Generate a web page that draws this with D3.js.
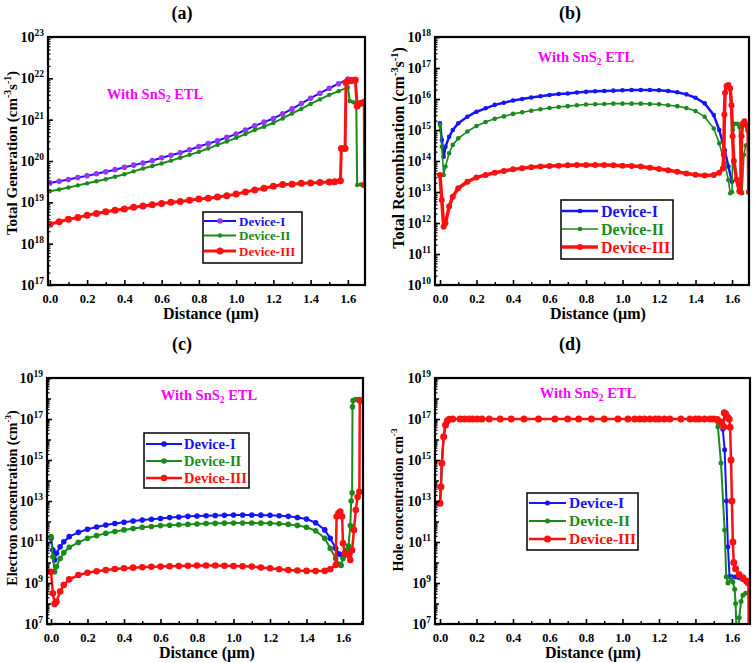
<!DOCTYPE html>
<html><head><meta charset="utf-8">
<script src="https://cdn.jsdelivr.net/npm/d3@7"></script>
<style>
body{margin:0;background:#fff}
text{font-family:"Liberation Serif","Times New Roman",serif;font-weight:bold}
</style>
</head><body>
<svg id="chart" width="756" height="663"></svg>
<script>
// ---------- DATA ----------
const deviceNames = ["Device-I", "Device-II", "Device-III"];
const xTickLabels = [0, 0.2, 0.4, 0.6, 0.8, 1.0, 1.2, 1.4, 1.6];
const yExpA = [17, 18, 19, 20, 21, 22, 23];
const yExpB = [10, 11, 12, 13, 14, 15, 16, 17, 18];
const yExpCD = [7, 9, 11, 13, 15, 17, 19];

// (a) Total generation (cm-3 s-1) vs distance (um)
const genDevI = [[0,2.95e19],[0.05,3.24e19],[0.1,3.55e19],[0.15,3.98e19],[0.2,4.37e19],[0.25,4.9e19],[0.3,5.5e19],[0.35,6.17e19],[0.4,7.08e19],[0.45,7.94e19],[0.5,8.91e19],[0.55,1.02e20],[0.6,1.2e20],[0.65,1.38e20],[0.7,1.58e20],[0.75,1.86e20],[0.8,2.24e20],[0.85,2.63e20],[0.9,3.09e20],[0.95,3.72e20],[1.0,4.47e20],[1.05,5.62e20],[1.1,7.08e20],[1.15,8.71e20],[1.2,1.07e21],[1.25,1.38e21],[1.3,1.82e21],[1.35,2.45e21],[1.4,3.31e21],[1.45,4.37e21],[1.5,5.75e21],[1.55,7.41e21],[1.6,9.55e21]];
const genDevII = [[0,1.86e19],[0.05,2.04e19],[0.1,2.29e19],[0.15,2.57e19],[0.2,2.88e19],[0.25,3.24e19],[0.3,3.63e19],[0.35,4.17e19],[0.4,4.79e19],[0.45,5.62e19],[0.5,6.61e19],[0.55,7.59e19],[0.6,8.71e19],[0.65,1.02e20],[0.7,1.2e20],[0.75,1.41e20],[0.8,1.66e20],[0.85,2.0e20],[0.9,2.45e20],[0.95,2.95e20],[1.0,3.63e20],[1.05,4.47e20],[1.1,5.62e20],[1.15,6.76e20],[1.2,8.32e20],[1.25,1.07e21],[1.3,1.41e21],[1.35,1.82e21],[1.4,2.4e21],[1.45,3.09e21],[1.5,3.98e21],[1.55,4.9e21],[1.6,6.03e21],[1.61,2.82e21],[1.63,2.63e21],[1.645,2.51e21],[1.65,2.63e19],[1.67,2.69e19],[1.69,2.82e19]];
const genDevIII = [[0,2.95e18],[0.05,3.39e18],[0.1,3.89e18],[0.15,4.27e18],[0.2,4.9e18],[0.25,5.37e18],[0.3,5.89e18],[0.35,6.46e18],[0.4,6.92e18],[0.45,7.59e18],[0.5,8.13e18],[0.55,8.71e18],[0.6,9.33e18],[0.65,1.0e19],[0.7,1.05e19],[0.75,1.12e19],[0.8,1.2e19],[0.85,1.26e19],[0.9,1.35e19],[0.95,1.45e19],[1.0,1.58e19],[1.05,1.78e19],[1.1,2.0e19],[1.15,2.19e19],[1.2,2.45e19],[1.25,2.69e19],[1.3,2.75e19],[1.35,2.88e19],[1.4,2.95e19],[1.45,3.02e19],[1.5,3.09e19],[1.53,3.16e19],[1.56,3.31e19],[1.565,2.0e20],[1.585,2.0e20],[1.59,7.94e21],[1.6,8.5e21],[1.62,8.9e21],[1.64,9.1e21],[1.65,2.14e21],[1.67,2.51e21],[1.688,2.69e21],[1.69,2.63e19]];

// (b) Total recombination (cm-3 s-1)
const recDevI = [[0,1.66e15],[0.01,4.79e14],[0.02,1.38e14],[0.03,2.88e14],[0.05,6.03e14],[0.07,1.0e15],[0.1,1.66e15],[0.15,2.69e15],[0.2,3.89e15],[0.25,5.01e15],[0.3,6.46e15],[0.35,7.59e15],[0.4,8.91e15],[0.45,1.0e16],[0.5,1.12e16],[0.55,1.23e16],[0.6,1.35e16],[0.65,1.45e16],[0.7,1.51e16],[0.75,1.62e16],[0.8,1.7e16],[0.85,1.78e16],[0.9,1.82e16],[0.95,1.86e16],[1.0,1.91e16],[1.05,1.95e16],[1.1,1.95e16],[1.15,1.95e16],[1.2,1.91e16],[1.25,1.82e16],[1.3,1.66e16],[1.35,1.41e16],[1.4,1.1e16],[1.45,7.24e15],[1.5,3.02e15],[1.53,1.0e15],[1.56,2.24e14],[1.58,6.61e13],[1.6,2.14e13]];
const recDevII = [[0,1.45e15],[0.01,2.88e14],[0.02,3.55e13],[0.03,6.61e13],[0.05,1.78e14],[0.07,3.31e14],[0.1,5.37e14],[0.15,8.91e14],[0.2,1.35e15],[0.25,1.82e15],[0.3,2.29e15],[0.35,2.75e15],[0.4,3.31e15],[0.45,3.72e15],[0.5,4.17e15],[0.55,4.68e15],[0.6,5.13e15],[0.65,5.5e15],[0.7,5.89e15],[0.75,6.31e15],[0.8,6.61e15],[0.85,6.76e15],[0.9,6.92e15],[0.95,7.08e15],[1.0,7.08e15],[1.05,7.08e15],[1.1,7.08e15],[1.15,6.92e15],[1.2,6.76e15],[1.25,6.31e15],[1.3,5.89e15],[1.35,5.13e15],[1.4,4.07e15],[1.45,2.69e15],[1.5,1.12e15],[1.53,3.72e14],[1.56,8.51e13],[1.58,2.45e13],[1.59,9.12e12],[1.6,1.0e13],[1.605,1.0e15],[1.615,1.58e15],[1.63,1.58e15],[1.64,1.26e15],[1.65,1.0e13],[1.655,9.12e12],[1.665,1.58e14],[1.675,3.16e14],[1.69,3.55e14]];
const recDevIII = [[0,3.55e13],[0.01,5.5e12],[0.02,7.59e11],[0.03,9.77e11],[0.05,3.39e12],[0.07,7.08e12],[0.1,1.32e13],[0.15,2.14e13],[0.2,2.95e13],[0.25,3.55e13],[0.3,4.17e13],[0.35,4.79e13],[0.4,5.37e13],[0.45,5.89e13],[0.5,6.31e13],[0.55,6.61e13],[0.6,6.92e13],[0.65,7.08e13],[0.7,7.24e13],[0.75,7.41e13],[0.8,7.41e13],[0.85,7.41e13],[0.9,7.41e13],[0.95,7.24e13],[1.0,7.08e13],[1.05,6.92e13],[1.1,6.61e13],[1.15,6.03e13],[1.2,5.5e13],[1.25,5.01e13],[1.3,4.47e13],[1.35,3.98e13],[1.4,3.63e13],[1.45,3.39e13],[1.5,3.55e13],[1.53,4.17e13],[1.55,5.75e13],[1.555,1.58e14],[1.558,3.16e15],[1.562,1.58e16],[1.57,2.63e16],[1.58,2.82e16],[1.59,2.24e16],[1.597,6.31e15],[1.603,6.31e14],[1.61,1.0e14],[1.625,2.51e13],[1.64,1.05e13],[1.648,1.0e13],[1.652,6.31e14],[1.658,1.58e15],[1.668,1.91e15],[1.68,1.41e15],[1.688,1.0e15],[1.692,1.0e13]];

// (c) Electron concentration (cm-3)
const eleDevI = [[0,1.51e11],[0.01,4.07e10],[0.02,1.32e10],[0.03,2.82e10],[0.05,5.89e10],[0.07,1.02e11],[0.1,1.82e11],[0.15,2.95e11],[0.2,4.17e11],[0.25,5.37e11],[0.3,6.76e11],[0.35,7.94e11],[0.4,9.12e11],[0.45,1.05e12],[0.5,1.17e12],[0.55,1.29e12],[0.6,1.41e12],[0.65,1.55e12],[0.7,1.66e12],[0.75,1.78e12],[0.8,1.86e12],[0.85,1.91e12],[0.9,1.95e12],[0.95,2.0e12],[1.0,2.09e12],[1.05,2.09e12],[1.1,2.09e12],[1.15,2.04e12],[1.2,2.0e12],[1.25,1.91e12],[1.3,1.78e12],[1.35,1.58e12],[1.4,1.32e12],[1.45,8.71e11],[1.5,3.89e11],[1.53,1.51e11],[1.56,4.9e10],[1.58,2.57e10],[1.6,1.91e10]];
const eleDevII = [[0,1.82e11],[0.01,1.91e10],[0.02,3.55e9],[0.03,6.31e9],[0.05,1.58e10],[0.07,3.02e10],[0.1,5.5e10],[0.15,9.55e10],[0.2,1.51e11],[0.25,2.04e11],[0.3,2.63e11],[0.35,3.24e11],[0.4,3.89e11],[0.45,4.57e11],[0.5,5.25e11],[0.55,5.75e11],[0.6,6.31e11],[0.65,6.61e11],[0.7,6.92e11],[0.75,7.24e11],[0.8,7.59e11],[0.85,7.94e11],[0.9,8.13e11],[0.95,8.32e11],[1.0,8.51e11],[1.05,8.51e11],[1.1,8.51e11],[1.15,8.32e11],[1.2,8.13e11],[1.25,7.76e11],[1.3,7.24e11],[1.35,6.46e11],[1.4,5.25e11],[1.45,3.55e11],[1.5,1.51e11],[1.53,4.9e10],[1.56,1.58e10],[1.58,8.13e9],[1.59,7.24e9],[1.6,1.58e10],[1.61,3.16e10],[1.62,3.98e10],[1.63,6.31e10],[1.64,6.31e11],[1.645,1.0e13],[1.65,2.51e13],[1.652,3.98e17],[1.655,7.94e17],[1.67,8.91e17],[1.69,8.91e17],[1.705,8.32e17]];
const eleDevIII = [[0,3.55e9],[0.01,3.16e8],[0.02,9.55e7],[0.03,1.23e8],[0.05,3.8e8],[0.07,7.94e8],[0.1,1.51e9],[0.15,2.45e9],[0.2,3.16e9],[0.25,3.72e9],[0.3,4.27e9],[0.35,4.79e9],[0.4,5.25e9],[0.45,5.62e9],[0.5,5.89e9],[0.55,6.17e9],[0.6,6.31e9],[0.65,6.61e9],[0.7,6.76e9],[0.75,6.92e9],[0.8,7.08e9],[0.85,7.08e9],[0.9,7.08e9],[0.95,6.92e9],[1.0,6.76e9],[1.05,6.61e9],[1.1,6.31e9],[1.15,5.75e9],[1.2,5.25e9],[1.25,4.68e9],[1.3,4.27e9],[1.35,4.07e9],[1.4,3.89e9],[1.45,3.8e9],[1.5,3.89e9],[1.53,4.68e9],[1.56,7.59e9],[1.565,1.74e12],[1.575,2.51e12],[1.585,3.02e12],[1.595,1.74e12],[1.6,8.71e10],[1.61,2.82e10],[1.63,2.34e10],[1.64,1.32e10],[1.65,3.98e10],[1.66,3.89e11],[1.67,3.63e12],[1.68,1.58e13],[1.69,2.82e13],[1.692,7.94e17],[1.705,7.94e17]];

// (d) Hole concentration (cm-3)
const holeDevI = [[0,7.76e12],[0.005,5.01e13],[0.01,6.92e14],[0.02,1.38e16],[0.03,5.13e16],[0.04,8.32e16],[0.05,9.77e16],[0.07,1e17],[0.11,1e17],[0.16,1e17],[0.23,1e17],[0.33,1e17],[0.46,1e17],[0.63,1e17],[0.76,1e17],[0.9,1e17],[1.03,1e17],[1.12,1e17],[1.2,1e17],[1.26,1e17],[1.37,1e17],[1.45,1e17],[1.5,1e17],[1.52,9.33e16],[1.54,6.31e16],[1.55,3.16e16],[1.56,3.16e15],[1.57,1.0e13],[1.578,5.89e10],[1.587,2.0e9],[1.6,2.0e9],[1.62,1.95e9],[1.64,1.8e9],[1.66,1.5e9],[1.68,1.2e9],[1.69,1.0e9]];
const holeDevII = [[0,7.76e12],[0.005,5.01e13],[0.01,6.92e14],[0.02,1.38e16],[0.03,5.13e16],[0.04,8.32e16],[0.05,9.77e16],[0.07,1e17],[0.11,1e17],[0.16,1e17],[0.23,1e17],[0.33,1e17],[0.46,1e17],[0.63,1e17],[0.76,1e17],[0.9,1e17],[1.03,1e17],[1.12,1e17],[1.2,1e17],[1.26,1e17],[1.37,1e17],[1.45,1e17],[1.5,1e17],[1.51,9.33e16],[1.523,4.17e16],[1.54,7.08e14],[1.56,3.89e11],[1.569,2.0e9],[1.578,1.0e9],[1.596,1.58e9],[1.605,1.12e9],[1.615,5.0e8],[1.62,1.0e8],[1.625,5.0e6],[1.635,5.0e6],[1.64,2.0e7],[1.65,1.26e8],[1.66,2.51e8],[1.675,3.16e8],[1.7,3.16e8]];
const holeDevIII = [[0,7.76e12],[0.005,5.01e13],[0.01,6.92e14],[0.02,1.38e16],[0.03,5.13e16],[0.04,8.32e16],[0.05,9.77e16],[0.07,1e17],[0.11,1e17],[0.135,1e17],[0.16,1e17],[0.18,1e17],[0.205,1e17],[0.23,1e17],[0.27,1e17],[0.33,1e17],[0.39,1e17],[0.46,1e17],[0.54,1e17],[0.63,1e17],[0.7,1e17],[0.76,1e17],[0.83,1e17],[0.9,1e17],[0.975,1e17],[1.03,1e17],[1.067,1e17],[1.094,1e17],[1.12,1e17],[1.15,1e17],[1.18,1e17],[1.2,1e17],[1.23,1e17],[1.26,1e17],[1.32,1e17],[1.37,1e17],[1.4,1e17],[1.42,1e17],[1.45,1e17],[1.48,1e17],[1.5,1e17],[1.52,9.55e16],[1.54,7.08e16],[1.555,4.17e16],[1.558,2.0e17],[1.565,1.78e17],[1.575,1.26e17],[1.585,1.0e17],[1.59,3.98e16],[1.595,1.0e15],[1.6,1.0e13],[1.605,1.0e11],[1.61,1.0e10],[1.62,5.01e9],[1.64,2.51e9],[1.66,1.78e9],[1.68,1.26e9],[1.69,1.0e9],[1.692,6.3e6]];

// ---------- STYLE / LAYOUT ----------
const BLUE = "#1414ff", GREEN = "#1a8a1a", RED = "#ff1010", VIOLET = "#9933ff", MAGENTA = "#ff00ff";
const textColors = [BLUE, GREEN, RED];

const panels = [
  { id:"a", label:"(a)", labelX:182, labelY:19, l:48, r:365, t:37, b:285,
    xDom:[-0.01,1.692], yDom:[1e17,1e23], yExp:yExpA, decades:[17,23],
    yTitle:[["Total Generation (cm",0],["-3",1],["s",0],["-1",1],[")",0]], yTitleX:12, yTitleY:153, yTitleFs:15,
    xTitleX:211, annX:155, annY:99,
    legend:{x0:203,y0:212,x1:302,y1:263,rows:[221,235.5,251],lx0:204,lx1:236,tx:239,fs:13},
    series:[
      {data:genDevI, color:BLUE, marker:VIOLET, lw:2, r:2.8},
      {data:genDevII, color:GREEN, marker:GREEN, lw:2, r:2.2},
      {data:genDevIII, color:RED, marker:RED, lw:3, r:3.5}]},
  { id:"b", label:"(b)", labelX:570, labelY:19, l:435, r:749, t:37, b:285,
    xDom:[-0.0274,1.693], yDom:[1e10,1e18], yExp:yExpB, decades:[10,18],
    yTitle:[["Total Recombination (cm",0],["-3",1],["s",0],["-1",1],[")",0]], yTitleX:398, yTitleY:148, yTitleFs:16,
    xTitleX:598, annX:586, annY:62,
    legend:{x0:561,y0:200,x1:673,y1:259,rows:[211,229,247],lx0:562,lx1:598,tx:601,fs:16},
    series:[
      {data:recDevI, color:BLUE, marker:BLUE, lw:2.5, r:2.3},
      {data:recDevII, color:GREEN, marker:GREEN, lw:1.6, r:2.3},
      {data:recDevIII, color:RED, marker:RED, lw:3.5, r:3}]},
  { id:"c", label:"(c)", labelX:182, labelY:350, l:47, r:363, t:378, b:624,
    xDom:[-0.0219,1.7096], yDom:[1e7,1e19], yExp:yExpCD, decades:[7,19],
    yTitle:[["Electron concentration (cm",0],["-3",1],[")",0]], yTitleX:12, yTitleY:498, yTitleFs:14,
    xTitleX:207, annX:209, annY:400,
    legend:{x0:144,y0:433,x1:249,y1:488,rows:[444,461,478],lx0:146,lx1:182,tx:184,fs:14.5},
    series:[
      {data:eleDevI, color:BLUE, marker:BLUE, lw:2, r:2.8},
      {data:eleDevII, color:GREEN, marker:GREEN, lw:2, r:2.8},
      {data:eleDevIII, color:RED, marker:RED, lw:2.5, r:3.3}]},
  { id:"d", label:"(d)", labelX:570, labelY:350, l:435, r:750, t:378, b:624,
    xDom:[-0.0274,1.699], yDom:[1e7,1e19], yExp:yExpCD, decades:[7,19],
    yTitle:[["Hole concentration cm",0],["-3",1]], yTitleX:398, yTitleY:500, yTitleFs:14,
    xTitleX:593, annX:588, annY:398,
    legend:{x0:527,y0:493,x1:638,y1:550,rows:[503,521,539],lx0:529,lx1:566,tx:569,fs:15.5},
    series:[
      {data:holeDevI, color:BLUE, marker:BLUE, lw:2, r:2.5},
      {data:holeDevII, color:GREEN, marker:GREEN, lw:2, r:2.5},
      {data:holeDevIII, color:RED, marker:RED, lw:2.5, r:3.5}]}
];

const svg = d3.select("#chart");
const defs = svg.append("defs");

panels.forEach(p => {
  const g = svg.append("g");
  const x = d3.scaleLinear().domain(p.xDom).range([p.l, p.r]);
  const y = d3.scaleLog().domain(p.yDom).range([p.b, p.t]);

  defs.append("clipPath").attr("id", "clip-" + p.id)
    .append("rect").attr("x", p.l).attr("y", p.t).attr("width", p.r - p.l).attr("height", p.b - p.t);

  // panel label
  g.append("text").attr("x", p.labelX).attr("y", p.labelY).attr("text-anchor", "middle")
    .attr("font-size", 18).text(p.label);

  // data
  const plot = g.append("g").attr("clip-path", `url(#clip-${p.id})`);
  const line = d3.line().x(d => x(d[0])).y(d => y(d[1]));
  p.series.forEach(s => {
    plot.append("path").datum(s.data).attr("d", line).attr("fill", "none")
      .attr("stroke", s.color).attr("stroke-width", s.lw).attr("stroke-linejoin", "round");
    plot.append("g").selectAll("circle").data(s.data).join("circle")
      .attr("cx", d => x(d[0])).attr("cy", d => y(d[1])).attr("r", s.r).attr("fill", s.marker);
  });

  // x axis ticks (inward)
  const xMinor = d3.range(0.1, p.xDom[1], 0.2);
  const xAx = g.append("g").attr("transform", `translate(0,${p.b})`)
    .call(d3.axisBottom(x).tickValues(xTickLabels).tickSize(-5).tickPadding(9).tickFormat(d3.format(".1f")));
  xAx.select(".domain").remove();
  xAx.selectAll("text").attr("font-size", 12.5).attr("fill", "#000").attr("font-family", '"Liberation Serif",serif').attr("font-weight", "bold");
  xAx.selectAll("line").attr("stroke-width", 1.6);
  const xAx2 = g.append("g").attr("transform", `translate(0,${p.b})`)
    .call(d3.axisBottom(x).tickValues(xMinor).tickSize(-3).tickFormat(""));
  xAx2.select(".domain").remove();
  xAx2.selectAll("line").attr("stroke-width", 1.4);

  // y axis ticks
  const majors = [], mids = [], minors = [];
  for (let e = p.decades[0]; e <= p.decades[1]; e++) {
    if (p.yExp.includes(e)) majors.push(Math.pow(10, e)); else mids.push(Math.pow(10, e));
    if (e < p.decades[1]) for (let k = 2; k <= 9; k++) minors.push(k * Math.pow(10, e));
  }
  [[majors, 5, 1.6], [mids, 4, 1.5], [minors, 2.5, 1.2]].forEach(([vals, len, w]) => {
    const ax = g.append("g").attr("transform", `translate(${p.l},0)`)
      .call(d3.axisLeft(y).tickValues(vals).tickSize(-len).tickFormat(""));
    ax.select(".domain").remove();
    ax.selectAll("line").attr("stroke-width", w);
  });
  // y tick labels 10^n
  p.yExp.forEach(e => {
    const t = g.append("text").attr("x", p.l - 4).attr("y", y(Math.pow(10, e)) + 5)
      .attr("text-anchor", "end").attr("font-size", 14);
    t.append("tspan").text("10");
    t.append("tspan").attr("dy", -6).attr("font-size", 9.5).text(String(e));
  });

  // frame
  g.append("rect").attr("x", p.l).attr("y", p.t).attr("width", p.r - p.l).attr("height", p.b - p.t)
    .attr("fill", "none").attr("stroke", "#000").attr("stroke-width", 2.2);

  // axis titles
  g.append("text").attr("x", p.xTitleX).attr("y", p.b + 34).attr("text-anchor", "middle")
    .attr("font-size", 16).text("Distance (\u00b5m)");
  const yt = g.append("text").attr("transform", `translate(${p.yTitleX},${p.yTitleY}) rotate(-90)`)
    .attr("text-anchor", "middle").attr("dy", "0.35em").attr("font-size", p.yTitleFs);
  let up = false;
  p.yTitle.forEach(([txt, sup]) => {
    const ts = yt.append("tspan").text(txt);
    if (sup && !up) { ts.attr("dy", -6).attr("font-size", p.yTitleFs * 0.65); up = true; }
    else if (!sup && up) { ts.attr("dy", 6); up = false; }
    else if (sup) ts.attr("font-size", p.yTitleFs * 0.65);
  });

  // annotation
  const an = g.append("text").attr("x", p.annX).attr("y", p.annY).attr("text-anchor", "middle")
    .attr("font-size", 14.5).attr("fill", MAGENTA);
  an.append("tspan").text("With SnS");
  an.append("tspan").attr("dy", 3).attr("font-size", 9.5).text("2");
  an.append("tspan").attr("dy", -3).text(" ETL");

  // legend
  const L = p.legend;
  const lg = g.append("g");
  lg.append("rect").attr("x", L.x0).attr("y", L.y0).attr("width", L.x1 - L.x0).attr("height", L.y1 - L.y0)
    .attr("fill", "#fff").attr("stroke", "#000").attr("stroke-width", 1.5);
  p.series.forEach((s, i) => {
    const ry = L.rows[i];
    lg.append("line").attr("x1", L.lx0).attr("x2", L.lx1).attr("y1", ry).attr("y2", ry)
      .attr("stroke", s.color).attr("stroke-width", s.lw);
    lg.append("circle").attr("cx", (L.lx0 + L.lx1) / 2).attr("cy", ry).attr("r", s.r).attr("fill", s.marker);
    lg.append("text").attr("x", L.tx).attr("y", ry).attr("dy", "0.35em").attr("font-size", L.fs)
      .attr("fill", textColors[i]).text(deviceNames[i]);
  });
});
</script>
</body></html>
